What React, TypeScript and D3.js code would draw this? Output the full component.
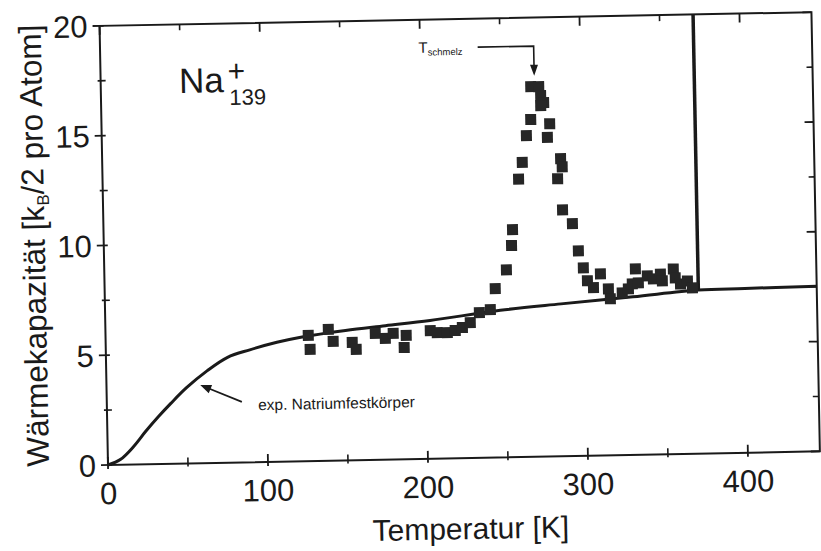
import React from "react";
import * as d3 from "d3";

// ---- data ----
const curveT = [0, 8, 16, 24, 32, 40, 50, 63, 76, 90, 107, 122, 150, 175, 203, 247, 285, 330, 371, 400, 445];
const curveC = [0, 0.25, 0.8, 1.5, 2.15, 2.75, 3.45, 4.2, 4.8, 5.12, 5.44, 5.65, 5.92, 6.1, 6.3, 6.7, 6.94, 7.2, 7.45, 7.48, 7.52];

const meltLineT = 371;
const meltLineC = [7.45, 20];

const squareT = [
  126.7, 127.7, 139.3, 142.2, 154.1, 156.5, 168.6, 174.8, 179.8, 186.5, 187.9, 203, 207.3, 213.6, 218.6, 223.1, 228.1, 233.9, 240.8,
  244.1, 251.3, 254.8, 255.6, 260, 262.5, 265.4, 268.3, 268.7, 273.7, 274.8, 276.6, 274.7, 280.1, 278.5, 286.5, 287.4, 284.4, 287.1, 293.1, 296.5, 299.4, 301.8,
  310, 305.5, 314.8, 315.9, 323.4, 327.3, 331.9, 329.8, 333.6, 339.3, 343, 347.5, 348.6, 355.6, 356.7, 359.9, 364.3, 367.3,
];
const squareC = [
  5.73, 5.09, 5.98, 5.43, 5.37, 5.05, 5.76, 5.52, 5.74, 5.09, 5.64, 5.84, 5.74, 5.73, 5.82, 5.95, 6.17, 6.61, 6.74,
  7.69, 8.54, 9.64, 10.36, 12.66, 13.42, 14.63, 15.36, 16.86, 16.85, 16.44, 16.12, 15.98, 15.15, 14.53, 13.55, 13.18, 12.64, 11.22, 10.58, 9.34, 8.56, 7.97,
  8.27, 7.65, 7.58, 7.13, 7.39, 7.56, 8.47, 7.79, 7.83, 8.14, 8.0, 8.21, 7.9, 8.43, 8.02, 7.74, 7.87, 7.55,
];

const xMajor = [0, 100, 200, 300, 400];
const xMinor = [50, 150, 250, 350];
const yMajor = [0, 5, 10, 15, 20];
const yMinor = [2.5, 7.5, 12.5, 17.5];

const xDomain = [0, 445];
const yDomain = [0, 20];

const FONT = "'Liberation Sans', Arial, Helvetica, sans-serif";

export default function App() {
  const W = 712;
  const H = 439.2;
  const ox = 108;
  const oy = 465;
  const x = d3.scaleLinear().domain(xDomain).range([0, W]);
  const y = d3.scaleLinear().domain(yDomain).range([H, 0]);

  const line = d3
    .line<number>()
    .x((_, i) => x(curveT[i]))
    .y((_, i) => y(curveC[i]))
    .curve(d3.curveCatmullRom.alpha(0.5));

  const sq = 11;
  const ink = "#1a1a1a";

  // arrow for T_schmelz
  const aStartT = 236, aCornerT = 271, aTopC = 18.7, aTipC = 17.35;
  const tipX = x(aCornerT), tipY = y(aTipC);
  // arrow for exp. label
  const eTipX = x(58.6), eTipY = y(3.56), eTailX = x(84.4), eTailY = y(2.76);
  const ang = Math.atan2(eTipY - eTailY, eTipX - eTailX);
  const ah = 11, aw = 4.5;
  const p1 = [eTipX - ah * Math.cos(ang) + aw * Math.sin(ang), eTipY - ah * Math.sin(ang) - aw * Math.cos(ang)];
  const p2 = [eTipX - ah * Math.cos(ang) - aw * Math.sin(ang), eTipY - ah * Math.sin(ang) + aw * Math.cos(ang)];

  return (
    <svg
      width={821}
      height={551}
      style={{ position: "absolute", left: 0, top: 0, background: "#fff" }}
      fontFamily={FONT}
    >
      <rect width={821} height={551} fill="#fff" />
      <g transform={`rotate(-1.1 ${ox} ${oy}) translate(${ox} ${oy - H})`}>
        {/* frame */}
        <rect x={0} y={0} width={W} height={H} fill="none" stroke={ink} strokeWidth={2} />
        {/* bottom & top ticks */}
        {xMajor.map((t) => (
          <g key={"xm" + t}>
            <line x1={x(t)} x2={x(t)} y1={H - 8} y2={H + 4} stroke={ink} strokeWidth={1.8} />
            <line x1={x(t)} x2={x(t)} y1={0} y2={9} stroke={ink} strokeWidth={1.8} />
            <text x={x(t)} y={H + 39} textAnchor="middle" fontSize={31} fill={ink}>
              {t}
            </text>
          </g>
        ))}
        {xMinor.map((t) => (
          <g key={"xn" + t}>
            <line x1={x(t)} x2={x(t)} y1={H - 6} y2={H + 3} stroke={ink} strokeWidth={1.6} />
            <line x1={x(t)} x2={x(t)} y1={0} y2={6} stroke={ink} strokeWidth={1.6} />
          </g>
        ))}
        {/* left & right ticks */}
        {yMajor.map((c) => (
          <g key={"ym" + c}>
            <line x1={-7} x2={4} y1={y(c)} y2={y(c)} stroke={ink} strokeWidth={1.8} />
            <line x1={W - 9} x2={W} y1={y(c)} y2={y(c)} stroke={ink} strokeWidth={1.8} />
            <text x={-12} y={y(c)} dy="0.36em" textAnchor="end" fontSize={31} fill={ink}>
              {c}
            </text>
          </g>
        ))}
        {yMinor.map((c) => (
          <g key={"yn" + c}>
            <line x1={-3} x2={5} y1={y(c)} y2={y(c)} stroke={ink} strokeWidth={1.6} />
            <line x1={W - 6} x2={W} y1={y(c)} y2={y(c)} stroke={ink} strokeWidth={1.6} />
          </g>
        ))}

        {/* axis titles */}
        <text x={x(226)} y={H + 81} textAnchor="middle" fontSize={30} fill={ink}>
          Temperatur [K]
        </text>
        <text
          transform={`translate(-59 ${y(10.05)}) rotate(-90)`}
          textAnchor="middle"
          fontSize={31.5}
          fill={ink}
        >
          Wärmekapazität [k
          <tspan fontSize={17} dy={5}>B</tspan>
          <tspan dy={-5}>/2 pro Atom]</tspan>
        </text>

        {/* bulk curve */}
        <path d={line(curveT) || ""} fill="none" stroke={ink} strokeWidth={3} strokeLinejoin="round" />
        <line
          x1={x(meltLineT)}
          x2={x(meltLineT)}
          y1={y(meltLineC[0])}
          y2={y(meltLineC[1])}
          stroke={ink}
          strokeWidth={3.5}
        />

        {/* cluster data */}
        {squareT.map((t, i) => (
          <rect
            key={"s" + i}
            x={x(t) - sq / 2}
            y={y(squareC[i]) - sq / 2}
            width={sq}
            height={sq}
            fill="#262626"
          />
        ))}

        {/* Na+139 label */}
        <text x={x(49)} y={y(16.87)} fontSize={35} fill={ink}>
          Na
        </text>
        <text x={x(79.5)} y={y(17.37)} fontSize={30} fill={ink}>
          +
        </text>
        <text x={x(80.3)} y={y(16.28)} fontSize={22} fill={ink}>
          139
        </text>

        {/* T_schmelz annotation */}
        <text x={x(199)} y={y(18.5)} fontSize={15} fill={ink}>
          T<tspan fontSize={9.5} dy={3}>schmelz</tspan>
        </text>
        <polyline
          points={`${x(aStartT)},${y(aTopC)} ${tipX},${y(aTopC)} ${tipX},${tipY - 8}`}
          fill="none"
          stroke={ink}
          strokeWidth={1.6}
        />
        <path d={`M${tipX},${tipY} L${tipX - 4},${tipY - 11} L${tipX + 4},${tipY - 11} Z`} fill={ink} />

        {/* exp. Natriumfestkörper annotation */}
        <line x1={eTailX} y1={eTailY} x2={eTipX - 8 * Math.cos(ang)} y2={eTipY - 8 * Math.sin(ang)} stroke={ink} strokeWidth={1.8} />
        <path d={`M${eTipX},${eTipY} L${p1[0]},${p1[1]} L${p2[0]},${p2[1]} Z`} fill={ink} />
        <text x={x(94.5)} y={y(2.36)} fontSize={15.5} fill={ink}>
          exp. Natriumfestkörper
        </text>
      </g>
    </svg>
  );
}
